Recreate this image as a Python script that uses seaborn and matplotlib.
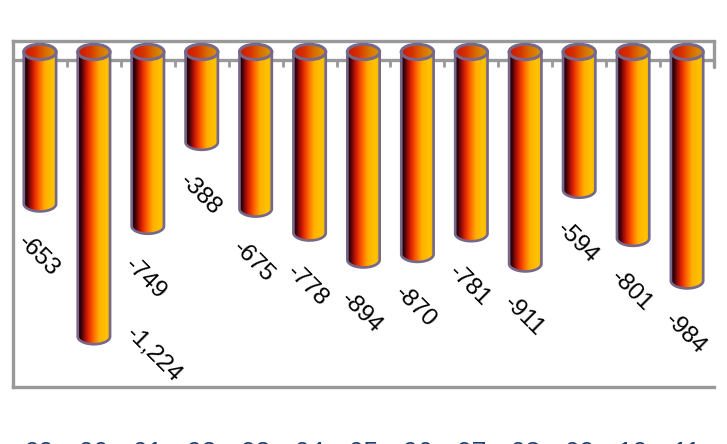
import numpy as np
import pandas as pd
import matplotlib
matplotlib.use('Agg')
import matplotlib.pyplot as plt
import seaborn as sns
from matplotlib.patches import Ellipse, Polygon
from matplotlib.colors import LinearSegmentedColormap

years = ['99', '00', '01', '02', '03', '04', '05', '06', '07', '08', '09', '10', '11']
values = [-653, -1224, -749, -388, -675, -778, -894, -870, -781, -911, -594, -801, -984]
labels = ['-653', '-1,224', '-749', '-388', '-675', '-778', '-894', '-870', '-781', '-911', '-594', '-801', '-984']

sns.set_theme(style='white')
plt.rcParams['font.family'] = ['Liberation Sans', 'DejaVu Sans']

W, H = 727, 444
GREY = '#999999'
EDGE = '#75688a'
df = pd.DataFrame({'year': years, 'value': values})

fig = plt.figure(figsize=(W / 100, H / 100), dpi=100)
# frame is 13..714 across, 41..387 down
ax = fig.add_axes([13 / W, 1 - 387 / H, 701 / W, 346 / H])
sns.barplot(data=df, x='year', y='value', color='white', width=0.6, ax=ax, zorder=3)

body = LinearSegmentedColormap.from_list('body', [(0, '#3a0012'), (0.08, '#2a0008'), (0.2, '#9a0c08'),
                                                  (0.33, '#e82c00'), (0.48, '#ff6c00'), (0.64, '#ffb000'),
                                                  (0.88, '#ffc400'), (1, '#e8b400')])
lid = LinearSegmentedColormap.from_list('lid', ['#c81800', '#d83000', '#d87000', '#d89a00'])
grad = np.linspace(0, 1, 256).reshape(1, -1)

# depth of the ellipse ends, in value units
rise = 33
floor = -34

for p in ax.patches:
    x, w, v = p.get_x(), p.get_width(), p.get_height()
    t = np.linspace(np.pi, 2 * np.pi, 40)
    arc = np.column_stack([x + w / 2 + w / 2 * np.cos(t), v + rise * np.sin(t)])
    outline = np.vstack([[x, 0], arc, [x + w, 0]])
    shape = Polygon(outline, closed=True, fc='none', ec=EDGE, lw=1.9, zorder=5)
    ax.add_patch(shape)
    im = ax.imshow(grad, cmap=body, extent=(x, x + w, v - rise, 0), aspect='auto', zorder=4)
    im.set_clip_path(shape)
    cap = Ellipse((x + w / 2, 0), w, rise * 2, fc='none', ec=EDGE, lw=2.2, zorder=7)
    ax.add_patch(cap)
    im2 = ax.imshow(grad, cmap=lid, extent=(x, x + w, -rise, rise), aspect='auto', zorder=6)
    im2.set_clip_path(cap)
    p.set_visible(False)
ax.set_xlim(-0.5, 12.5)
ax.set_ylim(-1441, 47)

# zero line and the ticks between the categories
ax.axhline(floor, color=GREY, lw=2.4, zorder=1)
ax.vlines(np.arange(13) + 0.5, floor, floor - 30, color=GREY, lw=2, zorder=1)

for i, (v, s) in enumerate(zip(values, labels)):
    dx, dy = (60, -11) if s == '-1,224' else (-2, -45)
    ax.annotate(s, (i, v - rise), xytext=(dx, dy), textcoords='offset pixels',
                rotation=-45, ha='center', va='center', fontsize=17.5, color='black',
                rotation_mode='anchor', zorder=8)

for side in ['left', 'top', 'bottom']:
    ax.spines[side].set_color(GREY)
    ax.spines[side].set_linewidth(2.4)
ax.spines['right'].set_visible(False)
ax.plot([12.5, 12.5], [47, floor - 30], color=GREY, lw=2.4, zorder=1, clip_on=False)

ax.set_xlabel('')
ax.set_ylabel('')
ax.set_yticks([])
ax.tick_params(axis='x', length=0, pad=39, labelsize=19, labelcolor='#1f3f77')

fig.savefig('out.png', dpi=100)
